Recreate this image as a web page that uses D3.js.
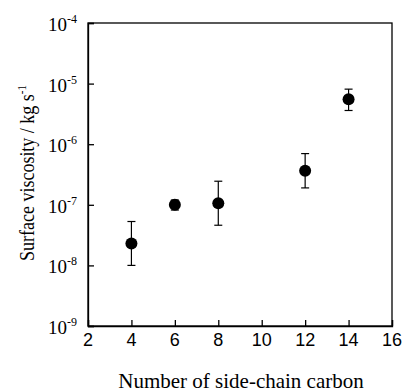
<!DOCTYPE html>
<html>
<head>
<meta charset="utf-8">
<script src="https://cdn.jsdelivr.net/npm/d3@7"></script>
<style>
  body { margin: 0; background: #fff; }
  .axis path, .axis line { stroke: #000; stroke-width: 1.3; }
</style>
</head>
<body>
<script>
// chart data
var carbons = [4, 6, 8, 12, 14];
var viscosity = [2.3e-8, 1.0e-7, 1.06e-7, 3.65e-7, 5.5e-6];
var errLow = [1.0e-8, 0.82e-7, 4.6e-8, 1.9e-7, 3.6e-6];
var errHigh = [5.3e-8, 1.2e-7, 2.45e-7, 7.0e-7, 8.1e-6];
var xTicks = [2, 4, 6, 8, 10, 12, 14, 16];
var yTicks = [1e-9, 1e-8, 1e-7, 1e-6, 1e-5, 1e-4];

var svgWidth = 406;
var svgHeight = 392;

var margin = { top: 23, right: 14, bottom: 66, left: 88 };
var chartWidth = svgWidth - margin.left - margin.right;
var chartHeight = svgHeight - margin.top - margin.bottom;

var svg = d3.select("body")
  .append("svg")
  .attr("width", svgWidth)
  .attr("height", svgHeight);

var chartGroup = svg.append("g")
  .attr("transform", `translate(${margin.left}, ${margin.top})`);

var xScale = d3.scaleLinear().domain([2, 16]).range([0, chartWidth]);
var yScale = d3.scaleLog().domain([1e-9, 1e-4]).range([chartHeight, 0]);

// frame
chartGroup.append("rect")
  .attr("width", chartWidth)
  .attr("height", chartHeight)
  .attr("fill", "none")
  .attr("stroke", "#000")
  .attr("stroke-width", 1.3);

// axes with inward ticks
chartGroup.append("g")
  .classed("axis", true)
  .attr("transform", `translate(0, ${chartHeight})`)
  .call(d3.axisBottom(xScale).tickValues(xTicks).tickSize(-6).tickFormat(""));

chartGroup.append("g")
  .classed("axis", true)
  .call(d3.axisLeft(yScale).tickValues(yTicks).tickSize(-6).tickFormat(""));

// x tick labels
chartGroup.selectAll(".xlab")
  .data(xTicks)
  .enter()
  .append("text")
  .attr("x", d => xScale(d))
  .attr("y", chartHeight + 20)
  .attr("text-anchor", "middle")
  .style("font-family", "Liberation Sans, Arial, sans-serif")
  .style("font-size", "18px")
  .text(d => d);

// y tick labels as 10^n
var ylab = chartGroup.selectAll(".ylab")
  .data(yTicks)
  .enter()
  .append("text")
  .attr("x", -11)
  .attr("y", d => yScale(d) + 8)
  .attr("text-anchor", "end")
  .style("font-family", "Liberation Serif, Times New Roman, serif")
  .style("font-size", "19px");
ylab.append("tspan").text("10");
ylab.append("tspan")
  .attr("dy", -8)
  .style("font-size", "12px")
  .text(d => "-" + Math.round(-Math.log10(d)));

// error bars
var bars = chartGroup.selectAll(".err")
  .data(carbons)
  .enter()
  .append("g");

bars.append("line")
  .attr("x1", d => xScale(d))
  .attr("x2", d => xScale(d))
  .attr("y1", (d, i) => yScale(errLow[i]))
  .attr("y2", (d, i) => yScale(errHigh[i]))
  .attr("stroke", "#000")
  .attr("stroke-width", 1.2);

bars.append("line")
  .attr("x1", d => xScale(d) - 4)
  .attr("x2", d => xScale(d) + 4)
  .attr("y1", (d, i) => yScale(errLow[i]))
  .attr("y2", (d, i) => yScale(errLow[i]))
  .attr("stroke", "#000")
  .attr("stroke-width", 1.2);

bars.append("line")
  .attr("x1", d => xScale(d) - 4)
  .attr("x2", d => xScale(d) + 4)
  .attr("y1", (d, i) => yScale(errHigh[i]))
  .attr("y2", (d, i) => yScale(errHigh[i]))
  .attr("stroke", "#000")
  .attr("stroke-width", 1.2);

// points
chartGroup.selectAll("circle")
  .data(carbons)
  .enter()
  .append("circle")
  .attr("cx", d => xScale(d))
  .attr("cy", (d, i) => yScale(viscosity[i]))
  .attr("r", 6)
  .attr("fill", "#000");

// axis titles
svg.append("text")
  .attr("x", margin.left + chartWidth / 2 + 1)
  .attr("y", 388)
  .attr("text-anchor", "middle")
  .style("font-family", "Liberation Serif, Times New Roman, serif")
  .style("font-size", "21px")
  .text("Number of side-chain carbon");

var ytitle = svg.append("text")
  .attr("transform", `translate(34, 173) rotate(-90) scale(1, 1.15)`)
  .attr("text-anchor", "middle")
  .style("font-family", "Liberation Serif, Times New Roman, serif")
  .style("font-size", "18px");
ytitle.append("tspan").text("Surface viscosity / kg s");
ytitle.append("tspan")
  .attr("dy", -7)
  .style("font-size", "11px")
  .text("-1");
</script>
</body>
</html>
